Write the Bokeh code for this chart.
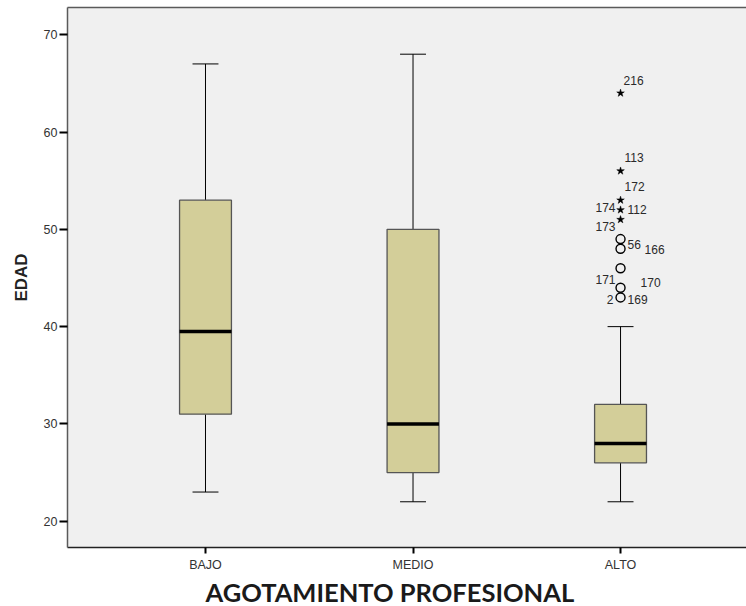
from bokeh.plotting import figure
from bokeh.models import ColumnDataSource, FixedTicker, LinearAxis, Range1d, Title
from bokeh.core.properties import value
from bokeh.embed import file_html
from bokeh.resources import INLINE

# --- data -------------------------------------------------------------
categories = ["BAJO", "MEDIO", "ALTO"]
lower_whisker = [23, 22, 22]
q1 = [31, 25, 26]
median = [39.5, 30, 28]
q3 = [53, 50, 32]
upper_whisker = [67, 68, 40]

# ALTO group: extreme values (stars) and outliers (circles)
extreme_values = [64, 56, 53, 52, 51]
outlier_values = [49, 48, 46, 44, 43]

# case labels and the value each one is attached to
case_ids = ["216", "113", "172", "174", "112", "173", "56", "166", "171", "170", "2", "169"]
case_values = [64, 56, 53, 52, 52, 51, 49, 48, 44, 44, 43, 43]

y_ticks = [20, 30, 40, 50, 60, 70]

# --- label placement (pixels) -----------------------------------------
label_dx = [3, 4, 4, -5, 7, -5, 7, 24, -5, 20, -7, 7]
label_dy = [-13, -13, -14, -2, 0, 7, 5, 1, -8, -5, 2, 2]
label_align = ["left", "left", "left", "right", "left", "right",
               "left", "left", "right", "left", "right", "left"]

xs = [i + 1 for i in range(len(categories))]
box_w = 0.25
cap_w = 0.125

FONT = "Liberation Sans"

p = figure(width=746, height=606, output_backend="svg", toolbar_location=None,
           x_range=Range1d(0.335, 3.607), y_range=Range1d(17.3, 72.8),
           min_border_left=67, min_border_right=0, min_border_top=7,
           min_border_bottom=10)
p.background_fill_color = "#F0F0F0"
p.border_fill_color = "white"
p.outline_line_color = None
p.grid.visible = False

src = ColumnDataSource(dict(x=xs, lo=lower_whisker, q1=q1, med=median, q3=q3, hi=upper_whisker,
                            cl=[x - cap_w / 2 for x in xs], cr=[x + cap_w / 2 for x in xs],
                            bl=[x - box_w / 2 for x in xs], br=[x + box_w / 2 for x in xs]))

# whiskers and caps
p.segment(x0="x", y0="q3", x1="x", y1="hi", source=src, line_color="black", line_width=1)
p.segment(x0="x", y0="lo", x1="x", y1="q1", source=src, line_color="black", line_width=1)
p.segment(x0="cl", y0="hi", x1="cr", y1="hi", source=src, line_color="black", line_width=1)
p.segment(x0="cl", y0="lo", x1="cr", y1="lo", source=src, line_color="black", line_width=1)

# boxes
p.vbar(x="x", width=box_w, bottom="q1", top="q3", source=src,
       fill_color="#D3CE99", line_color="#555555", line_width=1.3)
# medians
p.segment(x0="bl", y0="med", x1="br", y1="med", source=src, line_color="black", line_width=3.5)

# outliers of ALTO
alto_x = xs[2]
p.scatter(x=[alto_x] * len(extreme_values), y=extreme_values, marker="star", size=8,
          fill_color="black", line_color="black", line_width=0.5)
p.scatter(x=[alto_x] * len(outlier_values), y=outlier_values, marker="circle", size=9,
          fill_color=None, line_color="black", line_width=1.4)

lab_src = ColumnDataSource(dict(x=[alto_x] * len(case_ids), y=case_values, text=case_ids,
                                dx=label_dx, dy=label_dy, align=label_align))
p.text(x="x", y="y", text="text", source=lab_src, x_offset="dx", y_offset="dy",
       text_align="align", text_baseline="middle", text_font=value(FONT),
       text_font_size="12px", text_color="#2a2a2a")

# y axis
p.yaxis.ticker = FixedTicker(ticks=y_ticks)
p.yaxis.axis_label = "EDAD"
p.yaxis.axis_label_text_font = FONT
p.yaxis.axis_label_text_font_style = "bold"
p.yaxis.axis_label_text_font_size = "17px"
p.yaxis.axis_label_text_color = "#222222"
p.yaxis.axis_label_standoff = 10
p.yaxis.major_label_text_font = FONT
p.yaxis.major_label_text_font_size = "12.5px"
p.yaxis.major_label_text_color = "#333333"
p.yaxis.major_label_standoff = 2
p.yaxis.major_tick_out = 8
p.yaxis.major_tick_in = 0
p.yaxis.major_tick_line_width = 2
p.yaxis.major_tick_line_color = "black"
p.yaxis.minor_tick_line_color = None
p.yaxis.axis_line_color = "#5a5a5a"
p.yaxis.axis_line_width = 1.5

# x axis
p.xaxis.ticker = FixedTicker(ticks=xs)
p.xaxis.major_label_overrides = {x: c for x, c in zip(xs, categories)}
p.xaxis.major_label_text_font = FONT
p.xaxis.major_label_text_font_size = "12.5px"
p.xaxis.major_label_text_color = "#333333"
p.xaxis.major_label_standoff = 4
p.xaxis.major_tick_out = 6
p.xaxis.major_tick_in = 0
p.xaxis.major_tick_line_width = 2
p.xaxis.major_tick_line_color = "black"
p.xaxis.minor_tick_line_color = None
p.xaxis.axis_line_color = "#222222"
p.xaxis.axis_line_width = 1.5

# top border of the plotting area
top = LinearAxis(ticker=FixedTicker(ticks=[]), axis_line_color="#5a5a5a", axis_line_width=1.5,
                 major_tick_line_color=None, minor_tick_line_color=None)
p.add_layout(top, "above")

# x-axis title, below the category labels
p.add_layout(Title(text="AGOTAMIENTO PROFESIONAL", align="left", offset=138,
                   text_font="Lato", text_font_style="bold", text_font_size="25.5px",
                   text_color="#1a1a1a", standoff=0), "below")

open("out.html", "w").write(file_html(p, INLINE))
